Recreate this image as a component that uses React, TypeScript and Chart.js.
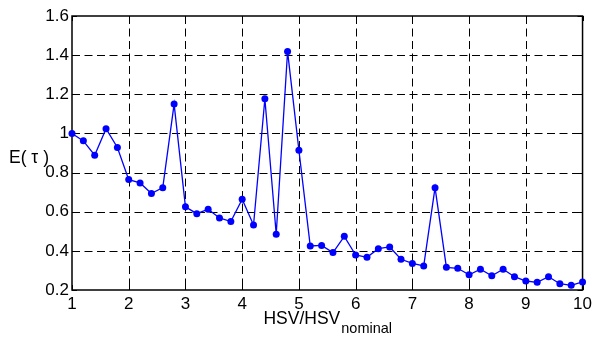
import { useEffect, useRef } from "react";
import { Chart, registerables } from "chart.js";

Chart.register(...registerables);

const ratioValues = [
  1, 1.2, 1.4, 1.6, 1.8, 2, 2.2, 2.4, 2.6, 2.8,
  3, 3.2, 3.4, 3.6, 3.8, 4, 4.2, 4.4, 4.6, 4.8,
  5, 5.2, 5.4, 5.6, 5.8, 6, 6.2, 6.4, 6.6, 6.8,
  7, 7.2, 7.4, 7.6, 7.8, 8, 8.2, 8.4, 8.6, 8.8,
  9, 9.2, 9.4, 9.6, 9.8, 10,
];
const energyValues = [
  1.0, 0.962, 0.889, 1.024, 0.928, 0.764, 0.747, 0.693, 0.723, 1.15,
  0.625, 0.59, 0.613, 0.568, 0.55, 0.664, 0.532, 1.177, 0.485, 1.419,
  0.914, 0.425, 0.428, 0.391, 0.474, 0.379, 0.367, 0.411, 0.42, 0.357,
  0.336, 0.323, 0.723, 0.316, 0.311, 0.278, 0.306, 0.273, 0.306, 0.268,
  0.246, 0.239, 0.268, 0.232, 0.224, 0.241,
];
const xTickValues = [1, 2, 3, 4, 5, 6, 7, 8, 9, 10];
const yTickValues = [0.2, 0.4, 0.6, 0.8, 1, 1.2, 1.4, 1.6];
const yTickLabels = ["0.2", "0.4", "0.6", "0.8", "1", "1.2", "1.4", "1.6"];
const yAxisTitle = "E( \u03c4 )";
const xAxisTitleMain = "HSV/HSV";
const xAxisTitleSub = "nominal";

const FONT = '"Liberation Sans", Arial, Helvetica, sans-serif';

const framePlugin = {
  id: "matlabFrame",
  beforeDatasetsDraw(chart: any) {
    const { ctx, chartArea } = chart;
    const { left, right, top, bottom } = chartArea;
    const xs = chart.scales.x;
    const ys = chart.scales.y;
    ctx.save();
    ctx.strokeStyle = "#000";
    ctx.lineWidth = 1;
    ctx.setLineDash([8, 4.5]);
    xTickValues.forEach((v) => {
      if (v === xTickValues[0] || v === xTickValues[xTickValues.length - 1]) return;
      const px = Math.round(xs.getPixelForValue(v)) + 0.5;
      ctx.beginPath();
      ctx.moveTo(px, top);
      ctx.lineTo(px, bottom);
      ctx.stroke();
    });
    yTickValues.forEach((v, i) => {
      if (i === 0 || i === yTickValues.length - 1) return;
      const py = Math.round(ys.getPixelForValue(v)) + 0.5;
      ctx.beginPath();
      ctx.moveTo(left, py);
      ctx.lineTo(right, py);
      ctx.stroke();
    });
    ctx.setLineDash([]);
    // inward ticks
    const tl = 5;
    xTickValues.forEach((v) => {
      const px = Math.round(xs.getPixelForValue(v)) + 0.5;
      ctx.beginPath();
      ctx.moveTo(px, bottom);
      ctx.lineTo(px, bottom - tl);
      ctx.moveTo(px, top);
      ctx.lineTo(px, top + tl);
      ctx.stroke();
    });
    yTickValues.forEach((v) => {
      const py = Math.round(ys.getPixelForValue(v)) + 0.5;
      ctx.beginPath();
      ctx.moveTo(left, py);
      ctx.lineTo(left + tl, py);
      ctx.moveTo(right, py);
      ctx.lineTo(right - tl, py);
      ctx.stroke();
    });
    // box
    ctx.lineWidth = 1.5;
    ctx.strokeRect(left, top, right - left, bottom - top);
    // titles
    ctx.fillStyle = "#000";
    ctx.textBaseline = "alphabetic";
    ctx.font = `17.5px ${FONT}`;
    const mainW = ctx.measureText(xAxisTitleMain).width;
    ctx.font = `14.5px ${FONT}`;
    const subW = ctx.measureText(xAxisTitleSub).width;
    const cx = (left + right) / 2;
    const startX = cx - (mainW + subW) / 2;
    ctx.font = `17.5px ${FONT}`;
    ctx.textAlign = "left";
    ctx.fillText(xAxisTitleMain, startX, 323.5);
    ctx.font = `14.5px ${FONT}`;
    ctx.fillText(xAxisTitleSub, startX + mainW + 1, 333);
    ctx.font = `17.5px ${FONT}`;
    ctx.textAlign = "left";
    ctx.textBaseline = "middle";
    ctx.fillText(yAxisTitle, 9, 158);
    ctx.restore();
  },
};

export default function App() {
  const canvasRef = useRef<HTMLCanvasElement | null>(null);

  useEffect(() => {
    document.body.style.margin = "0";
    const canvas = canvasRef.current;
    if (!canvas) return;
    const chart = new Chart(canvas, {
      type: "line",
      data: {
        datasets: [
          {
            data: ratioValues.map((x, i) => ({ x, y: energyValues[i] })),
            borderColor: "#0000ff",
            backgroundColor: "#0000ff",
            borderWidth: 1.3,
            pointRadius: 3.5,
            pointBorderWidth: 0,
            pointHoverRadius: 3.5,
            tension: 0,
            clip: false,
          },
        ],
      },
      plugins: [framePlugin],
      options: {
        responsive: false,
        animation: false,
        devicePixelRatio: 1,
        layout: { padding: { top: 16, right: 12, left: 0, bottom: 0 } },
        plugins: {
          legend: { display: false },
          tooltip: { enabled: false },
        },
        scales: {
          x: {
            type: "linear",
            min: 1,
            max: 10,
            afterBuildTicks: (scale: any) => {
              scale.ticks = xTickValues.map((v) => ({ value: v }));
            },
            afterFit: (scale: any) => {
              scale.height = 47;
            },
            grid: { display: false, drawTicks: false },
            border: { display: false },
            ticks: {
              color: "#000",
              padding: 4,
              maxRotation: 0,
              autoSkip: false,
              font: { family: FONT, size: 17 },
              callback: (v: any) => String(v),
            },
          },
          y: {
            type: "linear",
            min: 0.2,
            max: 1.6,
            afterBuildTicks: (scale: any) => {
              scale.ticks = yTickValues.map((v) => ({ value: v }));
            },
            afterFit: (scale: any) => {
              scale.width = 72;
            },
            grid: { display: false, drawTicks: false },
            border: { display: false },
            ticks: {
              color: "#000",
              padding: 3,
              autoSkip: false,
              font: { family: FONT, size: 17 },
              callback: (v: any) => {
                const i = yTickValues.findIndex((t) => Math.abs(t - v) < 1e-9);
                return i >= 0 ? yTickLabels[i] : "";
              },
            },
          },
        },
      },
    });
    return () => chart.destroy();
  }, []);

  return (
    <div style={{ position: "fixed", left: 0, top: 0, width: 596, height: 337, background: "#fff" }}>
      <canvas ref={canvasRef} width={596} height={337} style={{ width: 596, height: 337 }} />
    </div>
  );
}
